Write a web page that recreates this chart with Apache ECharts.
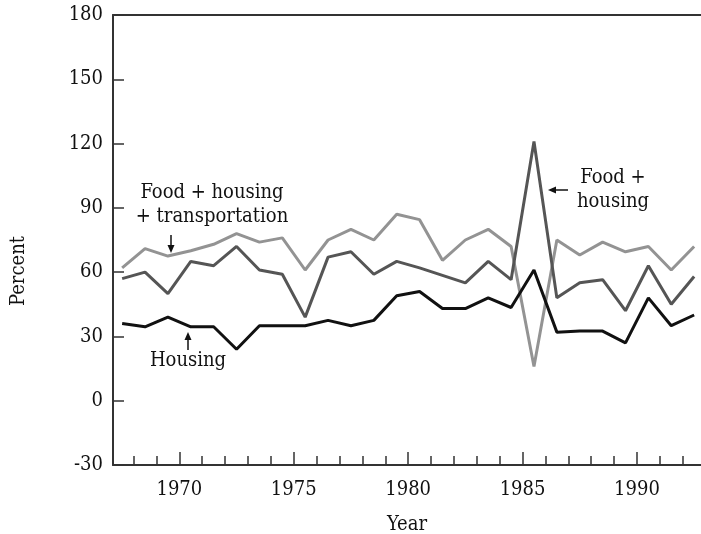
<!DOCTYPE html>
<html>
<head>
<meta charset="utf-8">
<script src="https://cdn.jsdelivr.net/npm/echarts@6/dist/echarts.min.js"></script>
<style>
  html, body { margin: 0; padding: 0; background: #fff; }
  #main { width: 701px; height: 534px; }
</style>
</head>
<body>
<div id="main"></div>
<script>
var myChart = echarts.init(document.getElementById('main'));
var font = '"DejaVu Serif Condensed", "DejaVu Serif", serif';
var fs = 20;

// years (mid-year points)
var years = [1967.5, 1968.5, 1969.5, 1970.5, 1971.5, 1972.5, 1973.5, 1974.5, 1975.5, 1976.5,
  1977.5, 1978.5, 1979.5, 1980.5, 1981.5, 1982.5, 1983.5, 1984.5, 1985.5, 1986.5,
  1987.5, 1988.5, 1989.5, 1990.5, 1991.5, 1992.5];

var foodHousingTransport = [62, 71, 67.5, 70, 73, 78, 74, 76, 61, 75,
  80, 75, 87, 84.5, 65.5, 75, 80, 72, 16, 75,
  68, 74, 69.5, 72, 61, 72];
var foodHousing = [57, 60, 50, 65, 63, 72, 61, 59, 39, 67,
  69.5, 59, 65, 62, 58.5, 55, 65, 56.5, 121, 48,
  55, 56.5, 42, 63, 45, 58];
var housing = [36, 34.5, 39, 34.5, 34.5, 24, 35, 35, 35, 37.5,
  35, 37.5, 49, 51, 43, 43, 48, 43.5, 61, 32,
  32.5, 32.5, 27, 48, 35, 40];

var majorYears = [1970, 1975, 1980, 1985, 1990];
var minorYears = [1968, 1969, 1971, 1972, 1973, 1974, 1976, 1977, 1978, 1979,
  1981, 1982, 1983, 1984, 1986, 1987, 1988, 1989, 1991, 1992];

function pairs(vals) {
  return vals.map(function (v, i) { return [years[i], v]; });
}

function lineSeries(name, data, color) {
  return {
    name: name,
    type: 'line',
    data: pairs(data),
    showSymbol: false,
    symbol: 'none',
    lineStyle: { width: 3, color: color },
    z: 3
  };
}

var axisColor = '#333';
var xMin = 1967.1, xMax = 1992.8;
var txt = { fontFamily: font, fontSize: fs, color: '#111' };

var option = {
  backgroundColor: '#fff',
  animation: false,
  textStyle: { fontFamily: font },
  grid: { left: 113, right: 0, top: 15, bottom: 69, containLabel: false, outerBoundsMode: 'none' },
  xAxis: [{
    type: 'value',
    min: xMin, max: xMax,
    position: 'bottom',
    name: 'Year',
    nameLocation: 'middle',
    nameGap: 50,
    nameTextStyle: txt,
    axisLine: { show: true, onZero: false, lineStyle: { color: axisColor, width: 2 } },
    axisTick: { show: true, inside: true, length: 13, customValues: majorYears, lineStyle: { color: axisColor, width: 1.5 } },
    axisLabel: {
      customValues: majorYears, margin: 15, fontFamily: font, fontSize: fs, color: '#111',
      formatter: function (v) { return String(v); }
    },
    splitLine: { show: false }
  }, {
    type: 'value',
    min: xMin, max: xMax,
    position: 'bottom',
    axisLine: { show: false, onZero: false },
    axisTick: { show: true, inside: true, length: 9, customValues: minorYears, lineStyle: { color: axisColor, width: 1.5 } },
    axisLabel: { show: false },
    splitLine: { show: false }
  }, {
    type: 'value',
    min: xMin, max: xMax,
    position: 'top',
    axisLine: { show: true, onZero: false, lineStyle: { color: axisColor, width: 2 } },
    axisTick: { show: false },
    axisLabel: { show: false },
    splitLine: { show: false }
  }],
  yAxis: {
    type: 'value',
    min: -30, max: 180, interval: 30,
    axisLine: { show: true, onZero: false, lineStyle: { color: axisColor, width: 2 } },
    axisTick: { show: true, inside: true, length: 11, lineStyle: { color: axisColor, width: 1.5 } },
    axisLabel: {
      margin: 10, fontFamily: font, fontSize: fs, color: '#111',
      formatter: function (v) { return v < 0 ? '-' + (-v) : String(v); }
    },
    splitLine: { show: false }
  },
  series: [
    lineSeries('Food + housing + transportation', foodHousingTransport, '#939393'),
    lineSeries('Food + housing', foodHousing, '#555'),
    lineSeries('Housing', housing, '#111')
  ],
  graphic: [
    { type: 'text', x: 19, y: 271, rotation: Math.PI / 2, style: { text: 'Percent', fontFamily: font, fontSize: fs, fill: '#111', align: 'center', verticalAlign: 'middle' } },

    { type: 'text', x: 212, y: 205, style: { text: 'Food + housing\n+ transportation', fontFamily: font, fontSize: fs, fill: '#111', align: 'center', verticalAlign: 'middle', lineHeight: 24 } },
    { type: 'line', shape: { x1: 171, y1: 235, x2: 171, y2: 247 }, style: { stroke: '#111', lineWidth: 1.5 } },
    { type: 'polygon', shape: { points: [[167.5, 245], [174.5, 245], [171, 253]] }, style: { fill: '#111' } },

    { type: 'text', x: 188, y: 361, style: { text: 'Housing', fontFamily: font, fontSize: fs, fill: '#111', align: 'center', verticalAlign: 'middle' } },
    { type: 'line', shape: { x1: 188, y1: 350, x2: 188, y2: 338 }, style: { stroke: '#111', lineWidth: 1.5 } },
    { type: 'polygon', shape: { points: [[184.5, 340], [191.5, 340], [188, 332]] }, style: { fill: '#111' } },

    { type: 'text', x: 613, y: 190, style: { text: 'Food +\nhousing', fontFamily: font, fontSize: fs, fill: '#111', align: 'center', verticalAlign: 'middle', lineHeight: 24 } },
    { type: 'line', shape: { x1: 568, y1: 190, x2: 554, y2: 190 }, style: { stroke: '#111', lineWidth: 1.5 } },
    { type: 'polygon', shape: { points: [[556, 186.5], [556, 193.5], [548, 190]] }, style: { fill: '#111' } }
  ]
};

myChart.setOption(option);
</script>
</body>
</html>
